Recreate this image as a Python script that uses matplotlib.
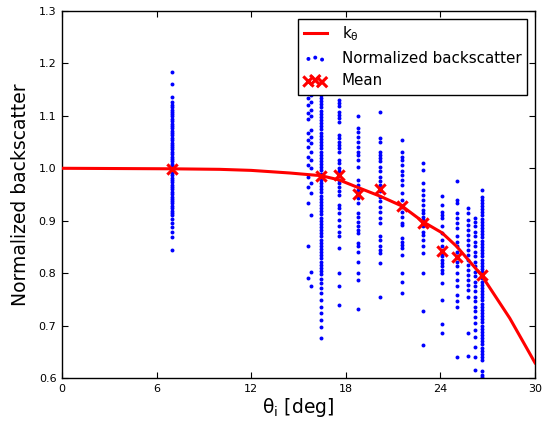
import numpy as np
import matplotlib
matplotlib.use('Agg')
import matplotlib.pyplot as plt

# incidence angles (deg) of each measurement column
col_angles = [7.0, 15.58, 15.8, 16.42, 17.56, 18.8, 20.16, 21.56,
              22.9, 24.1, 25.03, 25.74, 26.19, 26.61]

# normalized backscatter values per column
col_7 = [1.183, 1.161, 1.136, 1.126, 1.121, 1.117, 1.112, 1.108, 1.103, 1.099,
         1.094, 1.090, 1.085, 1.081, 1.076, 1.072, 1.067, 1.063, 1.058, 1.054,
         1.049, 1.045, 1.040, 1.036, 1.031, 1.027, 1.022, 1.018, 1.013, 1.009,
         1.004, 1.000, 0.996, 0.991, 0.987, 0.982, 0.978, 0.973, 0.969, 0.964,
         0.960, 0.955, 0.951, 0.946, 0.942, 0.937, 0.933, 0.928, 0.924, 0.919,
         0.915, 0.910, 0.903, 0.896, 0.888, 0.879, 0.869, 0.845]
col_15a = [1.134, 1.121, 1.105, 1.094, 1.067, 1.054, 1.041, 1.022, 1.006,
           0.984, 0.965, 0.933, 0.851, 0.791]
col_15b = [1.140, 1.127, 1.111, 1.099, 1.073, 1.060, 1.048, 1.032, 1.016,
           1.000, 0.972, 0.953, 0.911, 0.803, 0.775]
col_16 = [1.200, 1.194, 1.188, 1.182, 1.176, 1.170, 1.164, 1.158, 1.152, 1.146,
          1.140, 1.134, 1.128, 1.122, 1.116, 1.110, 1.104, 1.098, 1.092, 1.086,
          1.080, 1.074, 1.068, 1.062, 1.056, 1.050, 1.044, 1.038, 1.032, 1.026,
          1.020, 1.014, 1.008, 1.002, 0.996, 0.990, 0.984, 0.978, 0.972, 0.966,
          0.960, 0.954, 0.948, 0.942, 0.936, 0.930, 0.924, 0.918, 0.912, 0.906,
          0.900, 0.894, 0.888, 0.882, 0.876, 0.870, 0.864, 0.858, 0.852, 0.846,
          0.840, 0.834, 0.828, 0.822, 0.816, 0.810, 0.804, 0.798, 0.789, 0.781,
          0.772, 0.763, 0.749, 0.736, 0.724, 0.711, 0.698, 0.677]
col_17 = [1.130, 1.124, 1.118, 1.108, 1.102, 1.096, 1.089, 1.064, 1.057, 1.051,
          1.045, 1.038, 1.032, 1.016, 1.010, 1.000, 0.994, 0.987, 0.978, 0.972,
          0.965, 0.956, 0.949, 0.930, 0.924, 0.914, 0.902, 0.889, 0.879, 0.870,
          0.848, 0.800, 0.775, 0.740]
col_18 = [1.099, 1.076, 1.070, 1.060, 1.051, 1.041, 1.032, 1.026, 1.016, 1.003,
          0.978, 0.968, 0.959, 0.949, 0.943, 0.933, 0.914, 0.908, 0.898, 0.889,
          0.883, 0.876, 0.857, 0.851, 0.841, 0.822, 0.800, 0.787, 0.731]
col_20 = [1.107, 1.057, 1.051, 1.032, 1.026, 1.019, 1.013, 1.003, 0.994, 0.984,
          0.975, 0.968, 0.956, 0.946, 0.937, 0.927, 0.917, 0.905, 0.895, 0.870,
          0.864, 0.851, 0.845, 0.838, 0.819, 0.755]
col_21 = [1.054, 1.032, 1.022, 1.016, 1.006, 0.994, 0.987, 0.978, 0.968, 0.953,
          0.940, 0.927, 0.917, 0.908, 0.895, 0.892, 0.867, 0.860, 0.854, 0.848,
          0.835, 0.800, 0.784, 0.763]
col_22 = [1.010, 0.996, 0.972, 0.959, 0.949, 0.940, 0.930, 0.921, 0.914, 0.908,
          0.902, 0.895, 0.889, 0.879, 0.873, 0.864, 0.851, 0.838, 0.800, 0.727,
          0.663]
col_24 = [0.947, 0.930, 0.917, 0.911, 0.905, 0.889, 0.876, 0.864, 0.851, 0.838,
          0.832, 0.825, 0.819, 0.813, 0.806, 0.800, 0.781, 0.749, 0.703, 0.686]
col_25a = [0.975, 0.940, 0.933, 0.914, 0.905, 0.895, 0.886, 0.870, 0.860, 0.851,
           0.841, 0.832, 0.822, 0.813, 0.800, 0.787, 0.775, 0.759, 0.746, 0.736,
           0.641]
col_25b = [0.924, 0.914, 0.902, 0.892, 0.883, 0.873, 0.864, 0.854, 0.845, 0.835,
           0.825, 0.816, 0.806, 0.797, 0.787, 0.778, 0.768, 0.755, 0.686, 0.642]
col_26a = [0.906, 0.898, 0.889, 0.879, 0.870, 0.860, 0.851, 0.841, 0.832, 0.822,
           0.813, 0.803, 0.794, 0.784, 0.775, 0.765, 0.755, 0.746, 0.736, 0.727,
           0.717, 0.705, 0.692, 0.679, 0.660, 0.641, 0.616]
col_26b = [0.958, 0.946, 0.940, 0.934, 0.928, 0.922, 0.916, 0.910, 0.904, 0.898,
           0.892, 0.886, 0.880, 0.874, 0.868, 0.862, 0.856, 0.850, 0.844, 0.838,
           0.832, 0.826, 0.820, 0.814, 0.808, 0.802, 0.796, 0.790, 0.784, 0.778,
           0.772, 0.766, 0.760, 0.754, 0.748, 0.742, 0.736, 0.730, 0.724, 0.718,
           0.712, 0.706, 0.700, 0.694, 0.688, 0.682, 0.676, 0.670, 0.664, 0.658,
           0.652, 0.646, 0.640, 0.634, 0.613, 0.606, 0.602]

columns = [col_7, col_15a, col_15b, col_16, col_17, col_18, col_20, col_21,
           col_22, col_24, col_25a, col_25b, col_26a, col_26b]

# mean per angle
mean_angles = [7.0, 16.42, 17.56, 18.8, 20.16, 21.56, 22.9, 24.1, 25.03, 26.61]
mean_values = [0.998, 0.986, 0.987, 0.951, 0.961, 0.928, 0.896, 0.843, 0.830, 0.796]

# model curve k_theta
k_angles = [0, 7.0, 10.0, 12.0, 14.46, 15.6, 16.42, 17.56, 18.8, 20.16, 21.56,
            22.9, 24.1, 25.03, 26.61, 28.4, 30.0]
k_values = [1.0, 0.999, 0.998, 0.996, 0.991, 0.988, 0.986, 0.978, 0.963, 0.947,
            0.928, 0.898, 0.877, 0.851, 0.796, 0.714, 0.629]

xs = np.concatenate([np.full(len(c), a) for a, c in zip(col_angles, columns)])
ys = np.concatenate([np.array(c) for c in columns])

plt.rcParams['font.family'] = 'DejaVu Sans'
plt.rcParams['mathtext.fontset'] = 'dejavusans'

fig = plt.figure(figsize=(5.48, 4.26), dpi=100)
ax = fig.add_axes([62 / 548, 48 / 426, 473 / 548, 367 / 426])

ax.plot(k_angles, k_values, color='red', lw=2.2, label=r'$\mathrm{k_\theta}$', zorder=3)
ax.scatter(xs, ys, s=8, color='blue', linewidths=0, label='Normalized backscatter', zorder=2)
ax.scatter(mean_angles, mean_values, s=55, marker='x', color='red', linewidths=2.2,
           label='Mean', zorder=4)

ax.set_xlim(0, 30)
ax.set_ylim(0.6, 1.3)
ax.set_xticks([0, 6, 12, 18, 24, 30])
ax.set_yticks(np.arange(0.6, 1.31, 0.1))
ax.set_yticklabels(['0.6', '0.7', '0.8', '0.9', '1.0', '1.1', '1.2', '1.3'])
ax.tick_params(direction='in', top=True, right=True, length=4, width=0.8,
               labelsize=8, pad=4)
for sp in ax.spines.values():
    sp.set_linewidth(1)

ax.set_xlabel(r'$\mathrm{\theta_i}$ [deg]', fontsize=13.5, labelpad=2)
ax.set_ylabel('Normalized backscatter', fontsize=13.5, labelpad=6)

leg = ax.legend(loc='upper right', fontsize=10.9, scatterpoints=3, fancybox=False,
                framealpha=1, edgecolor='black', handlelength=1.5,
                handletextpad=1.0, borderaxespad=0.5, labelspacing=0.5,
                borderpad=0.4)
leg.get_frame().set_linewidth(1)

fig.savefig('out.png', dpi=100, facecolor='white')
